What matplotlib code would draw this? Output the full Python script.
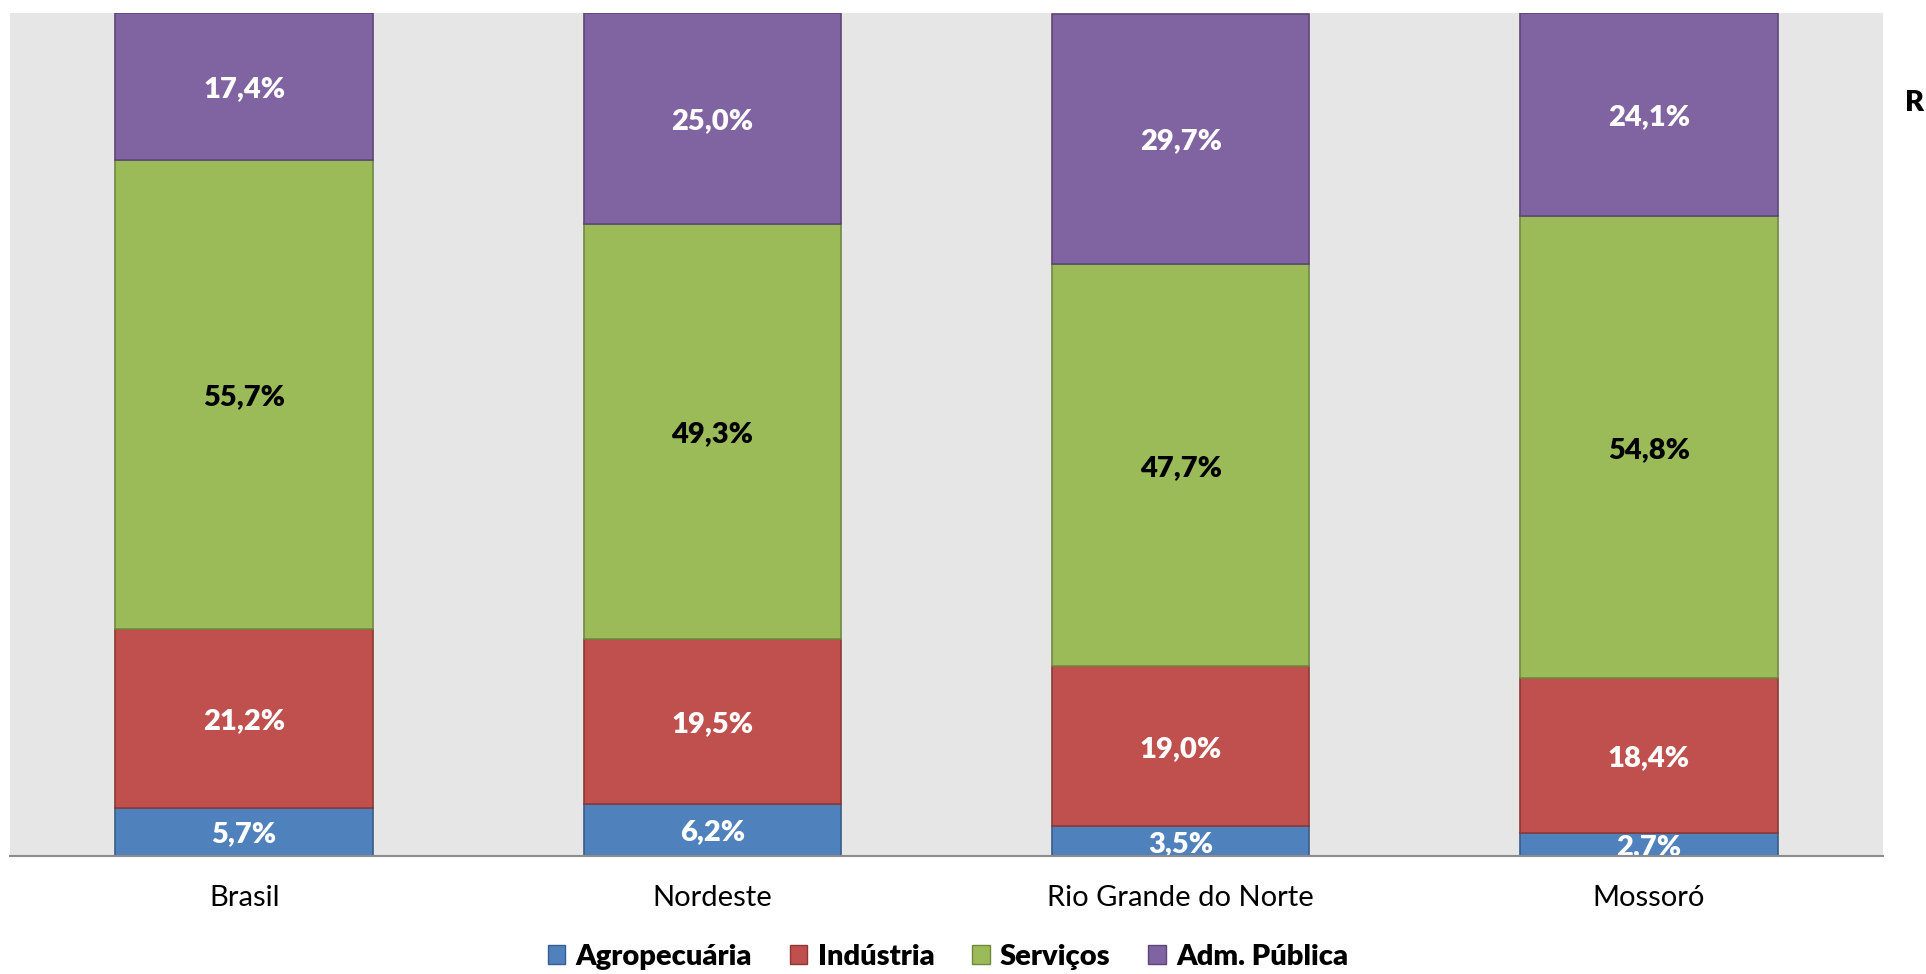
import matplotlib
matplotlib.use("Agg")
import matplotlib.pyplot as plt
from matplotlib.patches import Patch
import numpy as np

plt.rcParams['font.family'] = ['Lato', 'DejaVu Sans']

categories = ["Brasil", "Nordeste", "Rio Grande do Norte", "Mossoró"]
series_names = ["Agropecuária", "Indústria", "Serviços", "Adm. Pública"]
agro = [5.7, 6.2, 3.5, 2.7]
industria = [21.2, 19.5, 19.0, 18.4]
servicos = [55.7, 49.3, 47.7, 54.8]
adm = [17.4, 25.0, 29.7, 24.1]

colors = ["#4F81BD", "#C0504D", "#9BBB59", "#8064A2"]
edges = ["#385D8A", "#8C3836", "#71893F", "#5C4776"]
label_colors = ["white", "white", "black", "white"]

W, H = 1926, 974
fig = plt.figure(figsize=(W / 100, H / 100), dpi=100)
ax = fig.add_axes([10 / W, 1 - 856 / H, (1883 - 10) / W, (856 - 13) / H])
ax.set_facecolor("#E6E6E6")

x = np.arange(len(categories))
bottom = np.zeros(len(categories))
for vals, c, ec, lc in zip([agro, industria, servicos, adm], colors, edges, label_colors):
    vals = np.array(vals)
    ax.bar(x, vals, bottom=bottom, width=0.55, color=c, edgecolor=ec, linewidth=1.2, zorder=2)
    for xi, b, v in zip(x, bottom, vals):
        ax.text(xi, b + v / 2, f"{v:.1f}%".replace(".", ","), ha="center", va="center_baseline",
                color=lc, fontsize=21, fontweight="heavy", zorder=3)
    bottom += vals

ax.set_xlim(-0.5, len(categories) - 0.5)
ax.set_ylim(0, 100)
ax.set_yticks([])
ax.set_xticks(x)
ax.set_xticklabels(categories, fontsize=21)
ax.tick_params(axis="x", length=0, pad=21)
for s in ["top", "left", "right"]:
    ax.spines[s].set_visible(False)
ax.spines["bottom"].set_color("#8C8C8C")
ax.spines["bottom"].set_linewidth(1.5)
ax.spines["bottom"].set_zorder(4)

handles = [Patch(facecolor=c, edgecolor=ec, label=n) for c, ec, n in zip(colors, edges, series_names)]
fig.legend(handles=handles, loc="center", bbox_to_anchor=(948 / W, 1 - 957 / H), ncol=4,
           frameon=False, prop={"size": 21, "weight": "heavy"}, handlelength=0.6, handleheight=0.6,
           handletextpad=0.35, columnspacing=1.3)

fig.text(1905 / W, 1 - 103 / H, "R", ha="left", va="center", fontsize=21, fontweight="heavy")

fig.savefig("out.png", dpi=100)
